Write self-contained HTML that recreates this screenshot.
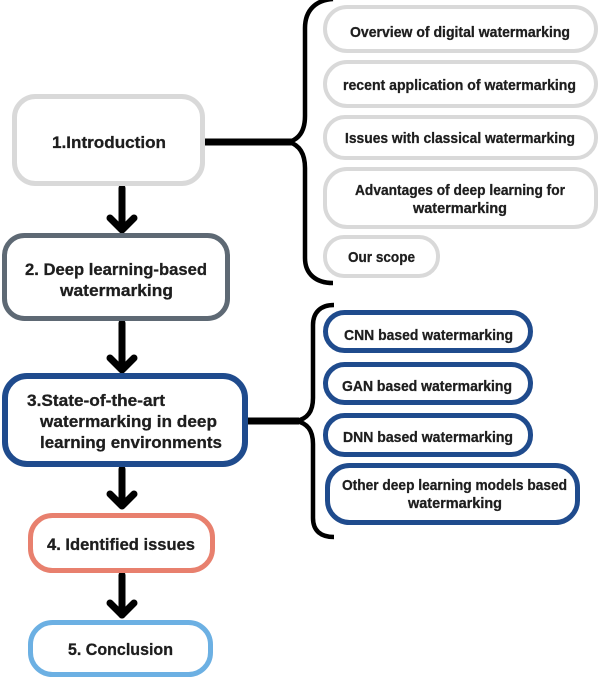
<!DOCTYPE html>
<html><head><meta charset="utf-8"><style>
html,body{margin:0;padding:0;background:#fff;}
svg{display:block;}
text{font-family:"Liberation Sans",Arial,sans-serif;font-weight:bold;fill:#1e1e1e;stroke:#1e1e1e;stroke-width:0.3;}
</style></head><body>
<svg width="600" height="677" viewBox="0 0 600 677" xmlns="http://www.w3.org/2000/svg">
<!-- connectors -->
<g stroke="#000" fill="none" stroke-linejoin="round">
<line x1="204" y1="142" x2="292" y2="142" stroke-width="7"/>
<line x1="246" y1="421" x2="299" y2="421" stroke-width="7"/>
<path d="M333,-1 C316,0 305,10 305,28 L305,116 C305,131 299,139 289,142 C299,145 305,153 305,168 L305,258 C305,274 316,283 333,283" stroke-width="4.5"/>
<path d="M334,305 C321,305 313,312 313,325 L313,398 C313,412 307,419 296,421 C307,423 313,430 313,444 L313,518 C313,531 321,537 334,537" stroke-width="4.5"/>
<g stroke-width="7" stroke-linecap="round">
<line x1="122" y1="188" x2="122" y2="229"/>
<polyline points="110,218 122,230 134,218"/>
<line x1="122" y1="323" x2="122" y2="369"/>
<polyline points="110,358 122,370 134,358"/>
<line x1="122" y1="469" x2="122" y2="505"/>
<polyline points="110,494 122,506 134,494"/>
<line x1="122" y1="575" x2="122" y2="615"/>
<polyline points="110,603 122,615 134,603"/>
</g>
</g>
<!-- main boxes -->
<g fill="#fff">
<rect x="14.5" y="96.5" width="188" height="87" rx="21" stroke="#d9d9d9" stroke-width="5"/>
<rect x="4.5" y="235.5" width="223" height="83" rx="20" stroke="#5e6974" stroke-width="5"/>
<rect x="5" y="376" width="240" height="88" rx="22" stroke="#1f4b8d" stroke-width="6"/>
<rect x="30.5" y="515.5" width="182" height="55" rx="22" stroke="#e8806e" stroke-width="5"/>
<rect x="30.5" y="622.5" width="180" height="52" rx="22" stroke="#6cb0e3" stroke-width="5"/>
<!-- right gray -->
<rect x="325" y="7" width="271" height="44" rx="22" stroke="#d9d9d9" stroke-width="4"/>
<rect x="325" y="62" width="271" height="44" rx="22" stroke="#d9d9d9" stroke-width="4"/>
<rect x="325" y="117" width="271" height="41" rx="20" stroke="#d9d9d9" stroke-width="4"/>
<rect x="325" y="169" width="271" height="58" rx="22" stroke="#d9d9d9" stroke-width="4"/>
<rect x="325" y="237" width="113" height="39" rx="19" stroke="#d9d9d9" stroke-width="4"/>
<!-- right blue -->
<rect x="325.5" y="312.5" width="205" height="38" rx="19" stroke="#1f4b8d" stroke-width="5"/>
<rect x="325.5" y="364.5" width="205" height="38" rx="19" stroke="#1f4b8d" stroke-width="5"/>
<rect x="325.5" y="415.5" width="205" height="39" rx="19" stroke="#1f4b8d" stroke-width="5"/>
<rect x="327.5" y="465.5" width="250" height="57" rx="22" stroke="#1f4b8d" stroke-width="5"/>
</g>
<!-- main text -->
<g font-size="17">
<text x="52" y="148" textLength="114" lengthAdjust="spacingAndGlyphs">1.Introduction</text>
<text x="25" y="275" textLength="182" lengthAdjust="spacingAndGlyphs">2. Deep learning-based</text>
<text x="60" y="296" textLength="113" lengthAdjust="spacingAndGlyphs">watermarking</text>
<text x="27" y="406" textLength="138" lengthAdjust="spacingAndGlyphs">3.State-of-the-art</text>
<text x="40" y="427" textLength="177" lengthAdjust="spacingAndGlyphs">watermarking in deep</text>
<text x="40" y="448" textLength="182" lengthAdjust="spacingAndGlyphs">learning environments</text>
<text x="47" y="550" textLength="148" lengthAdjust="spacingAndGlyphs">4. Identified issues</text>
<text x="68" y="655" textLength="105" lengthAdjust="spacingAndGlyphs">5. Conclusion</text>
</g>
<!-- right text -->
<g font-size="15">
<text x="350" y="37" textLength="220" lengthAdjust="spacingAndGlyphs">Overview of digital watermarking</text>
<text x="343" y="90" textLength="233" lengthAdjust="spacingAndGlyphs">recent application of watermarking</text>
<text x="345" y="143" textLength="230" lengthAdjust="spacingAndGlyphs">Issues with classical watermarking</text>
<text x="355" y="195" textLength="210" lengthAdjust="spacingAndGlyphs">Advantages of deep learning for</text>
<text x="413" y="213" textLength="94" lengthAdjust="spacingAndGlyphs">watermarking</text>
<text x="348" y="262" textLength="67" lengthAdjust="spacingAndGlyphs">Our scope</text>
<text x="344" y="340" textLength="169" lengthAdjust="spacingAndGlyphs">CNN based watermarking</text>
<text x="342" y="391" textLength="170" lengthAdjust="spacingAndGlyphs">GAN based watermarking</text>
<text x="343" y="442" textLength="170" lengthAdjust="spacingAndGlyphs">DNN based watermarking</text>
<text x="342" y="490" textLength="225" lengthAdjust="spacingAndGlyphs">Other deep learning models based</text>
<text x="408" y="508" textLength="94" lengthAdjust="spacingAndGlyphs">watermarking</text>
</g>
</svg>
</body></html>
